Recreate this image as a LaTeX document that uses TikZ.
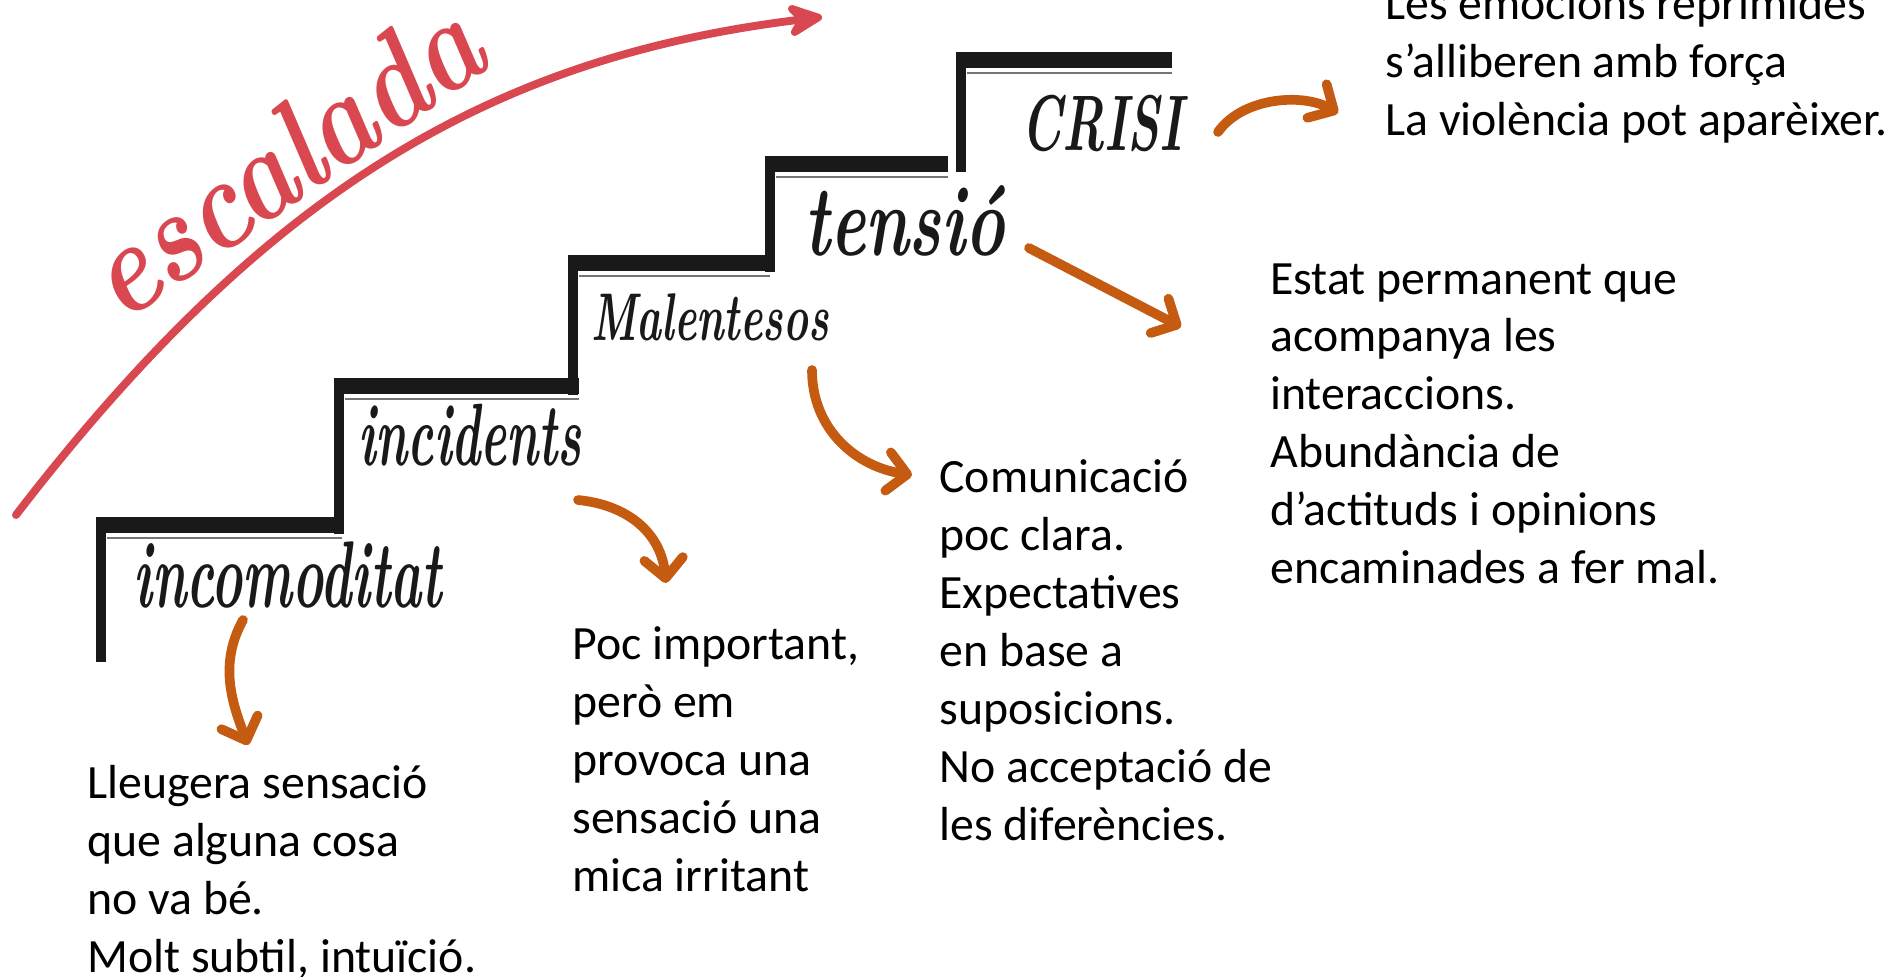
\documentclass[tikz,border=0pt]{standalone}
\usepackage{fontspec}
\newfontfamily\bodyfont{Carlito}
\usetikzlibrary{arrows.meta}
\definecolor{marcador}{RGB}{217,72,80}
\definecolor{taronja}{RGB}{197,90,17}
\definecolor{tinta}{RGB}{25,25,25}

\begin{document}
\begin{tikzpicture}[x=0.02cm, y=-0.02cm,
    riser/.style={draw=tinta, line width=6pt},
    tread/.style={draw=tinta, line width=9pt},
    treadline/.style={draw=tinta!60, line width=0.8pt},
    hand/.style={font=\bfseries\itshape\fontsize{#1}{#1}\selectfont, text=tinta, inner sep=0pt, anchor=base west, transform shape},
    txt/.style={font=\bodyfont\fontsize{27.2}{33}\selectfont, align=left, inner sep=0pt, anchor=north west},
    fletxa/.style={draw=taronja, line width=5.5pt, line cap=round, -{Straight Barb[round,length=11pt,width=22pt]}},
    vermell/.style={draw=marcador, line width=4.5pt, line cap=round, -{Stealth[round,length=26pt,width=24pt,inset=9pt]}}]
    \useasboundingbox (0,0) rectangle (1900,977);

    % Escala
    \foreach \xa/\ya/\yb/\xb in {101/662/517/342, 339/534/378/579, 573/395/255/770, 770/272/156/948, 961/172/52/1172} {
        \draw[riser] (\xa,\ya) -- (\xa,\yb);
        \draw[tread] (\xa-4,\yb+8) -- (\xb,\yb+8);
        \draw[treadline] (\xa+6,\yb+21) -- (\xb,\yb+21);
    }

    % Etiquetes dels graons
    \node[hand=30, yscale=1.8] (incom) at (133,607) {incomoditat};
    \node[hand=28, yscale=1.8] (incid) at (358,465) {incidents};
    \node[hand=24, yscale=1.6] (malen) at (591,340) {Malentesos};
    \node[hand=38, yscale=1.5] (tens) at (804,255) {tensió};
    \node[hand=28, yscale=1.6] (crisi) at (1021,150) {CRISI};

    % Escalada
    \coordinate (esc0) at (16,515);
    \coordinate (esc1) at (822,17);
    \draw[vermell] (esc0) .. controls +(250,-325) and +(-330,40) .. (esc1);
    \node[hand=62, text=marcador, rotate=35, yscale=1.2] (escal) at (122,325) {escalada};

    % Textos
    \node[txt] (emoc) at (1385,-14) {Les emocions reprimides\\s’alliberen amb força\\La violència pot aparèixer.};
    \node[txt] (estat) at (1270,263) {Estat permanent que\\acompanya les\\interaccions.\\Abundància de\\d’actituds i opinions\\encaminades a fer mal.};
    \node[txt] (com) at (939,459) {Comunicació\\poc clara.\\Expectatives\\en base a\\suposicions.\\No acceptació de\\les diferències.};
    \node[txt] (poc) at (572,626) {Poc important,\\però em\\provoca una\\sensació una\\mica irritant};
    \node[txt] (lleu) at (87,765) {Lleugera sensació\\que alguna cosa\\no va bé.\\Molt subtil, intuïció.};

    % Fletxes
    \draw[fletxa] ([shift={(110,13)}]incom.base west) .. controls +(-25,45) and +(-15,-40) .. ([shift={(161,-20)}]lleu.north west);
    \draw[fletxa] ([shift={(220,35)}]incid.base west) .. controls +(50,5) and +(-5,-50) .. ([shift={(94,-43)}]poc.north west);
    \draw[fletxa] ([shift={(221,30)}]malen.base west) .. controls +(0,60) and +(-55,-8) .. ([shift={(-27,16)}]com.north west);
    \draw[fletxa] ([shift={(225,-7)}]tens.base west) -- ([shift={(-89,64)}]estat.north west);
    \draw[fletxa] ([shift={(197,-18)}]crisi.base west) .. controls +(25,-35) and +(-35,-20) .. ([shift={(-47,127)}]emoc.north west);
\end{tikzpicture}
\end{document}
